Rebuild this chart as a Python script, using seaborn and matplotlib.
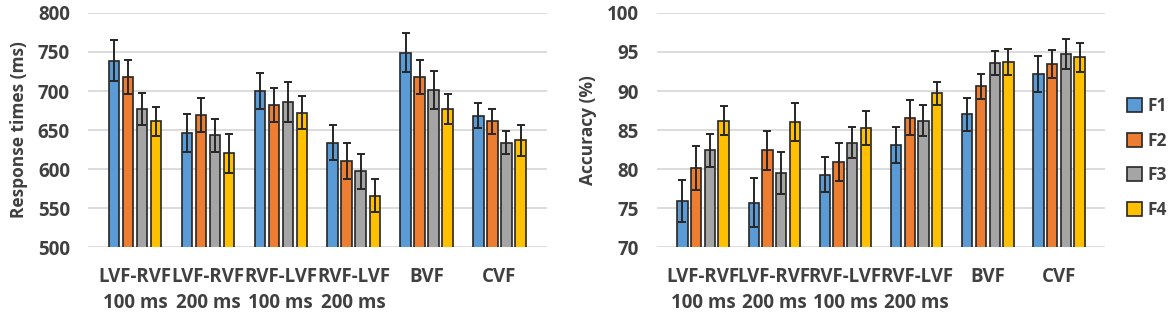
import numpy as np
import pandas as pd
import matplotlib
matplotlib.use("Agg")
import matplotlib.pyplot as plt
from matplotlib.patches import Patch
import seaborn as sns

# Conditions and factor levels
conditions = ["LVF-RVF\n100 ms", "LVF-RVF\n200 ms", "RVF-LVF\n100 ms",
              "RVF-LVF\n200 ms", "BVF", "CVF"]
factors = ["F1", "F2", "F3", "F4"]
colors = ["#5B9BD5", "#ED7D31", "#A5A5A5", "#FFC000"]

# Response times (ms), mean per factor
rt_f1 = [739, 646, 700, 634, 749, 668]
rt_f2 = [718, 669, 682, 610, 718, 661]
rt_f3 = [677, 643, 686, 597, 701, 634]
rt_f4 = [661, 620, 672, 566, 677, 637]
# Response times, error bar half-length
rt_e1 = [26, 24, 23, 22, 25, 16]
rt_e2 = [22, 22, 22, 23, 22, 16]
rt_e3 = [20, 21, 26, 22, 24, 15]
rt_e4 = [19, 25, 21, 21, 19, 20]

# Accuracy (%), mean per factor
acc_f1 = [75.9, 75.7, 79.3, 83.1, 87.0, 92.2]
acc_f2 = [80.1, 82.4, 80.9, 86.6, 90.6, 93.5]
acc_f3 = [82.4, 79.5, 83.4, 86.2, 93.6, 94.7]
acc_f4 = [86.2, 86.0, 85.3, 89.7, 93.7, 94.3]
# Accuracy, error bar half-length
acc_e1 = [2.7, 3.1, 2.3, 2.3, 2.1, 2.3]
acc_e2 = [2.8, 2.5, 2.4, 2.3, 1.6, 1.8]
acc_e3 = [2.1, 2.7, 2.0, 2.0, 1.5, 1.9]
acc_e4 = [1.9, 2.4, 2.2, 1.5, 1.7, 1.9]

text_color = "#404040"

sns.set_style("white")
plt.rcParams["font.family"] = ["Open Sans", "DejaVu Sans"]


def long_table(means, errs):
    rows = []
    for fac, m, e in zip(factors, means, errs):
        for cond, v, err in zip(conditions, m, e):
            rows.append({"cond": cond, "factor": fac, "value": v, "err": err})
    return pd.DataFrame(rows)


def draw(ax, df, ylim, step, ylabel):
    sns.barplot(data=df, x="cond", y="value", hue="factor", order=conditions,
                hue_order=factors, palette=colors, saturation=1, width=0.77,
                gap=0.25, edgecolor="#262626", linewidth=1.2, errorbar=None,
                legend=False, ax=ax, zorder=2)
    # error bars at the centre of each seaborn bar
    for cont, fac in zip(ax.containers, factors):
        sub = df[df["factor"] == fac]
        xs = [b.get_x() + b.get_width() / 2 for b in cont]
        ax.errorbar(xs, sub["value"], yerr=sub["err"], fmt="none",
                    ecolor="#262626", elinewidth=1.4, capsize=3,
                    capthick=1.4, zorder=3)
    ax.set_ylim(*ylim)
    ax.set_yticks(np.arange(ylim[0], ylim[1] + 0.1, step))
    ax.yaxis.grid(True, color="#d9d9d9", lw=1.3)
    ax.set_axisbelow(True)
    sns.despine(ax=ax, left=True, bottom=True)
    ax.tick_params(length=0, labelsize=13.5, labelcolor=text_color)
    ax.tick_params(axis="y", pad=13)
    ax.tick_params(axis="x", pad=14)
    for lab in ax.get_xticklabels():
        lab.set_fontweight("bold")
        lab.set_linespacing(1.45)
    for lab in ax.get_yticklabels():
        lab.set_fontweight("bold")
    ax.set_xlabel("")
    ax.set_ylabel(ylabel, fontsize=12.5, fontweight="bold", color=text_color,
                  labelpad=7)


fig = plt.figure(figsize=(11.7, 3.16), dpi=100)
ax1 = fig.add_axes([0.0752, 0.218, 0.392, 0.741])
ax2 = fig.add_axes([0.5615, 0.218, 0.383, 0.741])

rt_df = long_table([rt_f1, rt_f2, rt_f3, rt_f4], [rt_e1, rt_e2, rt_e3, rt_e4])
acc_df = long_table([acc_f1, acc_f2, acc_f3, acc_f4],
                    [acc_e1, acc_e2, acc_e3, acc_e4])

draw(ax1, rt_df, (500, 800), 50, "Response times (ms)")
draw(ax2, acc_df, (70, 100), 5, "Accuracy (%)")

handles = [Patch(facecolor=c, edgecolor="#262626", linewidth=1.2) for c in colors]
fig.legend(handles, factors, loc="center left", bbox_to_anchor=(0.963, 0.5),
           frameon=False, borderpad=0, borderaxespad=0, handlelength=0.9,
           handleheight=0.9, handletextpad=0.3, labelspacing=0.95,
           prop={"size": 12.5, "weight": "bold"}, labelcolor=text_color)

fig.savefig("out.png", dpi=100)
